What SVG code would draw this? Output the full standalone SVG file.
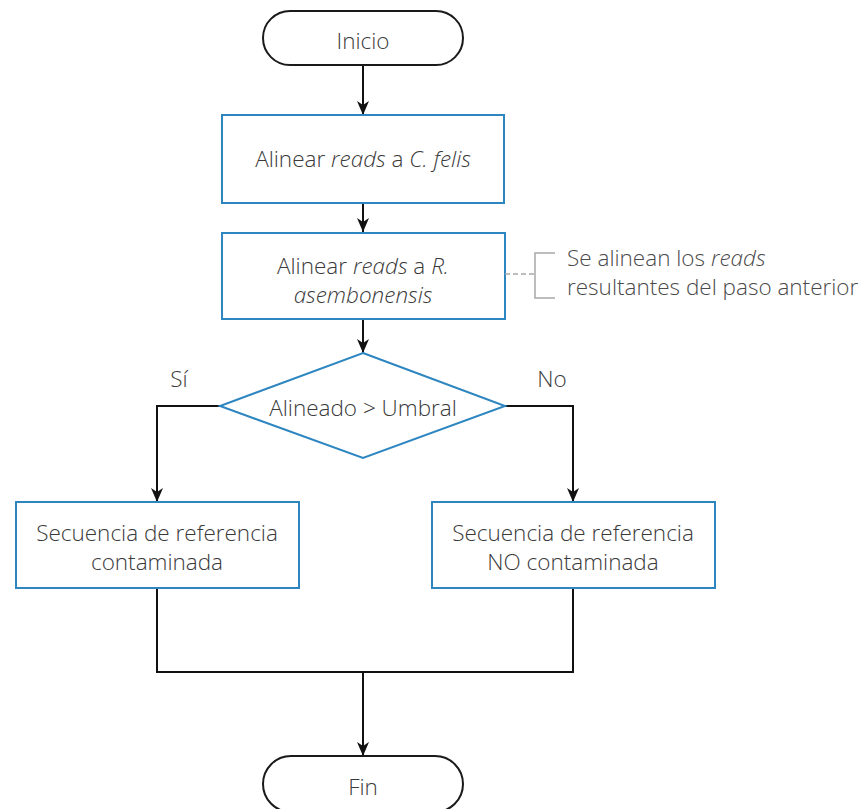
<svg xmlns="http://www.w3.org/2000/svg" width="868" height="809" viewBox="0 0 868 809">
<style>
text{font-family:"Open Sans","Liberation Sans",sans-serif;font-size:22.5px;font-weight:300;fill:#3a3a3a;text-anchor:middle}
.term{fill:#fff;stroke:#1a1a1a;stroke-width:2}
.box{fill:#fff;stroke:#2e86c1;stroke-width:2}
.conn{fill:none;stroke:#111;stroke-width:2}
.arr{marker-end:url(#ah)}
.note{fill:none;stroke:#a8a8a8;stroke-width:1.5}
.nt{fill:#4a4a4a;text-anchor:start}
</style>
<defs>
<marker id="ah" viewBox="0 0 14 12" refX="14" refY="6" markerWidth="14" markerHeight="12" markerUnits="userSpaceOnUse" orient="auto">
<path d="M0,0 L4,6 L0,12 L14,6 Z" fill="#111"/>
</marker>
</defs>
<rect width="868" height="809" fill="#fff"/>
<g id="connectors">
<path class="conn arr" d="M363,65 V115"/>
<path class="conn arr" d="M363,203 V232"/>
<path class="conn arr" d="M363,319 V353"/>
<path class="conn arr" d="M220,406 H157 V502"/>
<path class="conn arr" d="M505,406 H573 V502"/>
<path class="conn" d="M157,588 V672 H573 V588"/>
<path class="conn arr" d="M363,672 V756"/>
</g>
<g id="inicio">
<rect class="term" x="263" y="11" width="200" height="54" rx="27"/>
<text x="363" y="49">Inicio</text>
</g>
<g id="alinear-cfelis">
<rect class="box" x="222" y="115" width="282" height="88"/>
<text x="363" y="167">Alinear <tspan font-style="italic">reads</tspan> a <tspan font-style="italic">C. felis</tspan></text>
</g>
<g id="alinear-rasem">
<rect class="box" x="222" y="233" width="283" height="86"/>
<text x="363" y="274">Alinear <tspan font-style="italic">reads</tspan> a <tspan font-style="italic">R.</tspan></text>
<text x="363" y="303" font-style="italic">asembonensis</text>
</g>
<g id="nota">
<path class="note" d="M505,274 H535" stroke-dasharray="5,3"/>
<path class="note" d="M555,253 H535 V298 H555"/>
<text class="nt" x="567" y="266">Se alinean los <tspan font-style="italic">reads</tspan></text>
<text class="nt" x="567" y="295">resultantes del paso anterior</text>
</g>
<g id="decision">
<polygon class="box" points="363,353 505,406 363,458 220,406"/>
<text x="363" y="416">Alineado &gt; Umbral</text>
</g>
<g id="labels">
<text x="179" y="387">Sí</text>
<text x="552" y="387">No</text>
</g>
<g id="contaminada">
<rect class="box" x="16" y="502" width="283" height="86"/>
<text x="157" y="541">Secuencia de referencia</text>
<text x="157" y="570">contaminada</text>
</g>
<g id="no-contaminada">
<rect class="box" x="432" y="502" width="283" height="86"/>
<text x="573" y="541">Secuencia de referencia</text>
<text x="573" y="570">NO contaminada</text>
</g>
<g id="fin">
<rect class="term" x="263" y="756" width="200" height="56" rx="28"/>
<text x="363" y="795">Fin</text>
</g>
</svg>
